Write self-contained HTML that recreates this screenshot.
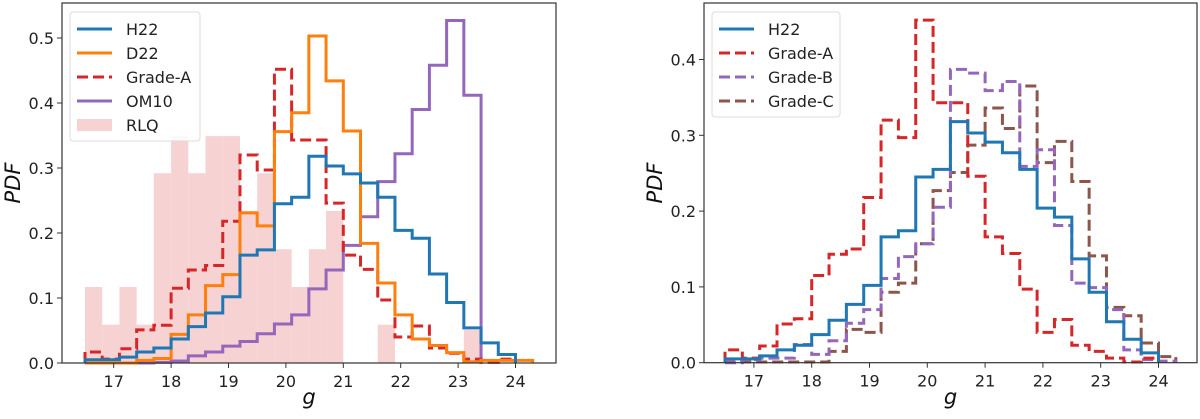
<!DOCTYPE html>
<html><head><meta charset="utf-8"><style>
body{margin:0;background:#fff;width:1200px;height:414px;overflow:hidden}
svg{font-family:"DejaVu Sans","Liberation Sans",sans-serif}
</style></head><body>
<svg id="c" width="1200" height="414"></svg>
<script>
const binStart = 16.5, binWidth = 0.3;
const h22 = [0.005,0.005,0.009,0.017,0.023,0.037,0.056,0.077,0.102,0.166,0.174,0.245,0.255,0.318,0.303,0.291,0.277,0.255,0.204,0.192,0.137,0.093,0.054,0.031,0.013];
const d22 = [0,0,0,0.004,0.007,0.044,0.074,0.119,0.136,0.231,0.211,0.356,0.385,0.503,0.434,0.357,0.184,0.123,0.074,0.037,0.027,0.016,0.002,0.004,0.004,0.004];
const gradeA = [0.017,0.006,0.022,0.051,0.058,0.115,0.143,0.150,0.218,0.320,0.297,0.452,0.343,0.343,0.246,0.166,0.144,0.097,0.040,0.057,0.023,0.015,0.006,0.001,0.006];
const om10 = [0,0,0,0,0.001,0.003,0.011,0.017,0.026,0.033,0.045,0.060,0.074,0.114,0.143,0.181,0.225,0.279,0.322,0.390,0.458,0.527,0.412];
const rlq = [0.117,0.059,0.117,0.059,0.292,0.349,0.292,0.349,0.349,0.234,0.292,0.175,0.117,0.175,0.234,0,0,0.059,0,0,0,0,0.051];
const gradeB = [0,0.004,0.006,0.006,0.024,0.011,0.029,0.052,0.070,0.111,0.140,0.157,0.205,0.387,0.382,0.359,0.371,0.259,0.281,0.181,0.105,0.099,0.070,0.017,0.004,0.002];
const gradeC = [0.001,0.001,0.001,0.001,0.001,0.001,0.015,0.044,0.040,0.093,0.105,0.157,0.227,0.251,0.287,0.336,0.309,0.365,0.264,0.292,0.239,0.141,0.073,0.062,0.026,0.008];
const xTicks = [17,18,19,20,21,22,23,24];
const yTicksL = [0.0,0.1,0.2,0.3,0.4,0.5];
const yTicksR = [0.0,0.1,0.2,0.3,0.4];

const NS="http://www.w3.org/2000/svg";
const svg=document.getElementById('c');
function mk(tag,attrs,parent){const e=document.createElementNS(NS,tag);for(const k in attrs)e.setAttribute(k,attrs[k]);(parent||svg).appendChild(e);return e;}

function panel(P){
  const g=mk('g',{});
  
  
  const X=v=>P.x0+(v-16.5)*P.sx;
  const Y=v=>P.yb-v*P.sy;
  const plot=mk('g',{},g);
  P.fills.forEach(f=>{
    f.data.forEach((v,i)=>{ if(v<=0) return;
      const a=binStart+i*binWidth;
      const r=mk('rect',{x:X(a),y:Y(v),width:X(a+binWidth)-X(a),height:Y(0)-Y(v),fill:f.color},plot);
      
      
    });
  });
  P.lines.forEach(l=>{
    let d='';
    l.data.forEach((v,i)=>{const a=binStart+i*binWidth,b=a+binWidth;
      if(i===0) d+='M'+X(a)+','+Y(0)+' L'+X(a)+','+Y(v);
      else d+=' L'+X(a)+','+Y(v);
      d+=' L'+X(b)+','+Y(v);});
    d+=' L'+X(binStart+l.data.length*binWidth)+','+Y(0);
    const p=mk('path',{d:d,fill:'none',stroke:l.color,'stroke-width':3,'stroke-dasharray':l.dash?'11,5':'none','stroke-linejoin':'miter'},plot);
    
    
  });
  const fr=mk('rect',{x:P.fx0,y:3,width:P.fx1-P.fx0,height:P.yb-3,fill:'none',stroke:'#333','stroke-width':1.2},g);
  
  
  xTicks.forEach(t=>{
    mk('line',{x1:X(t),x2:X(t),y1:P.yb,y2:P.yb+5,stroke:'#333'},g);
    const tx=mk('text',{x:X(t),y:P.yb+24,'text-anchor':'middle','font-size':16,fill:'#222'},g);
    tx.textContent=t;
    
    
  });
  P.yt.forEach(t=>{
    mk('line',{x1:P.fx0-5,x2:P.fx0,y1:Y(t),y2:Y(t),stroke:'#333'},g);
    const tx=mk('text',{x:P.fx0-8,y:Y(t)+6,'text-anchor':'end','font-size':16,fill:'#222'},g);
    tx.textContent=t.toFixed(1);
    
    
  });
  const xl=mk('text',{x:(P.fx0+P.fx1)/2,y:404,'text-anchor':'middle','font-size':21,'font-style':'italic',fill:'#111'},g);
  xl.textContent='g';
  
  
  const yl=mk('text',{x:0,y:0,'text-anchor':'middle','font-size':21,'font-style':'italic',fill:'#111',transform:'translate('+P.ylx+',183) rotate(-90)'},g);
  yl.textContent='PDF';
  
  
  const lg=mk('g',{},g);
  
  
  mk('rect',{x:P.fx0+8,y:12,width:P.lw,height:P.items.length*24+9,rx:3,fill:'#fff',stroke:'#ddd','fill-opacity':0.85},lg);
  P.items.forEach((it,i)=>{
    const yy=29+i*24;
    const e=mk('g',{},lg);
    
    
    if(it.fill) mk('rect',{x:P.fx0+15,y:yy-6,width:35,height:12,fill:it.color},e);
    else mk('line',{x1:P.fx0+15,x2:P.fx0+50,y1:yy,y2:yy,stroke:it.color,'stroke-width':3,'stroke-dasharray':it.dash?'11,5':'none'},e);
    const t=mk('text',{x:P.fx0+64,y:yy+6,'font-size':16,fill:'#222'},e);
    t.textContent=it.label;
  });
}
const BL='#1f77b4',OR='#ff7f0e',RD='#d62728',PU='#9467bd',BR='#8c564b',PK='#f6d2d2';
panel({name:'left-panel',x0:85,sx:57.4,yb:363,sy:650,fx0:62,fx1:556,ylx:20,yt:yTicksL,lw:130,
  fills:[{key:'rlq',data:rlq,color:PK}],
  lines:[{key:'om10',data:om10,color:PU},{key:'grade-a',data:gradeA,color:RD,dash:1},{key:'d22',data:d22,color:OR},{key:'h22',data:h22,color:BL}],
  items:[{label:'H22',color:BL},{label:'D22',color:OR},{label:'Grade-A',color:RD,dash:1},{label:'OM10',color:PU},{label:'RLQ',color:PK,fill:1}]});
panel({name:'right-panel',x0:725,sx:57.8,yb:362.7,sy:758,fx0:704,fx1:1197,ylx:662,yt:yTicksR,lw:128,
  fills:[],
  lines:[{key:'grade-c',data:gradeC,color:BR,dash:1},{key:'grade-b',data:gradeB,color:PU,dash:1},{key:'grade-a',data:gradeA,color:RD,dash:1},{key:'h22',data:h22,color:BL}],
  items:[{label:'H22',color:BL},{label:'Grade-A',color:RD,dash:1},{label:'Grade-B',color:PU,dash:1},{label:'Grade-C',color:BR,dash:1}]});
</script>
</body></html>
